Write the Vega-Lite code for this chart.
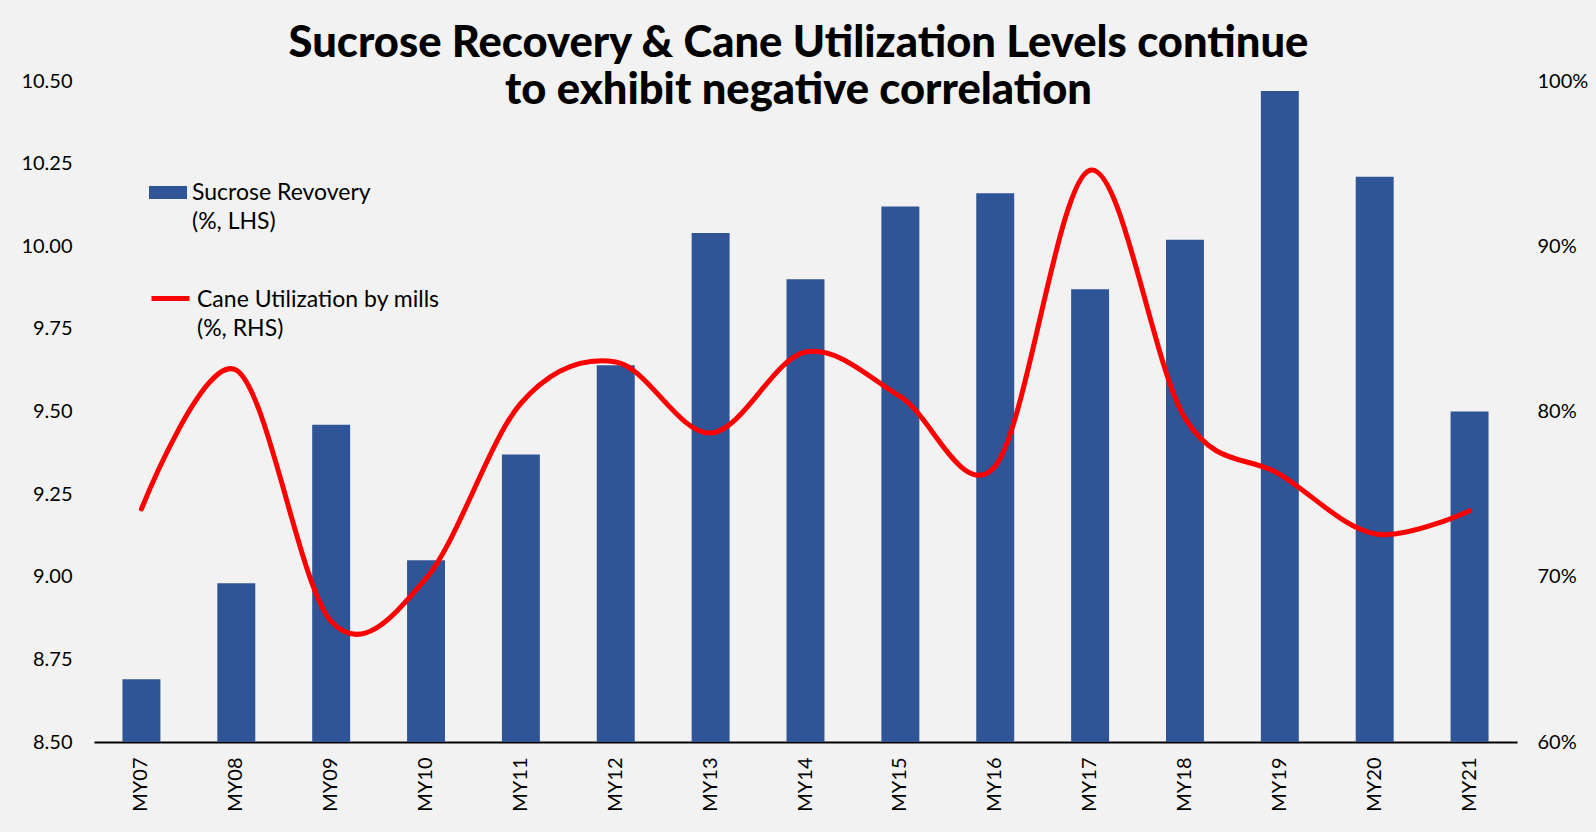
{
  "$schema": "https://vega.github.io/schema/vega-lite/v6.json",
  "autosize": "none",
  "width": 1423,
  "height": 661,
  "padding": {"left": 94, "top": 81, "right": 79, "bottom": 90},
  "background": "#f2f2f2",
  "title": {
    "text": ["Sucrose Recovery & Cane Utilization Levels continue", "to exhibit negative correlation"],
    "font": "Lato",
    "fontSize": 43.5,
    "fontWeight": 900,
    "color": "black",
    "anchor": "middle",
    "frame": "group",
    "baseline": "alphabetic",
    "lineHeight": 47,
    "offset": -76,
    "dx": -7
  },
  "config": {
    "view": {"stroke": null},
    "axis": {"labelFont": "Lato", "labelColor": "black", "grid": false, "ticks": false},
    "legend": {"labelFont": "Lato", "labelColor": "black"}
  },
  "data": {
    "values": [
      {"year": "MY07", "sucrose": 8.69, "cane": 0.741},
      {"year": "MY08", "sucrose": 8.98, "cane": 0.825},
      {"year": "MY09", "sucrose": 9.46, "cane": 0.673},
      {"year": "MY10", "sucrose": 9.05, "cane": 0.699},
      {"year": "MY11", "sucrose": 9.37, "cane": 0.805},
      {"year": "MY12", "sucrose": 9.64, "cane": 0.830},
      {"year": "MY13", "sucrose": 10.04, "cane": 0.787},
      {"year": "MY14", "sucrose": 9.90, "cane": 0.836},
      {"year": "MY15", "sucrose": 10.12, "cane": 0.809},
      {"year": "MY16", "sucrose": 10.16, "cane": 0.767},
      {"year": "MY17", "sucrose": 9.87, "cane": 0.946},
      {"year": "MY18", "sucrose": 10.02, "cane": 0.796},
      {"year": "MY19", "sucrose": 10.47, "cane": 0.762},
      {"year": "MY20", "sucrose": 10.21, "cane": 0.726},
      {"year": "MY21", "sucrose": 9.50, "cane": 0.740}
    ]
  },
  "encoding": {
    "x": {
      "field": "year",
      "type": "nominal",
      "sort": null,
      "scale": {"paddingInner": 0.6, "paddingOuter": 0.3},
      "axis": {
        "title": null,
        "labelAngle": -90,
        "labelFontSize": 20,
        "labelPadding": 15,
        "domainColor": "black",
        "domainWidth": 2
      }
    }
  },
  "layer": [
    {
      "mark": {"type": "bar", "clip": true},
      "encoding": {
        "y": {
          "field": "sucrose",
          "type": "quantitative",
          "scale": {"domain": [8.5, 10.5], "zero": false, "nice": false},
          "axis": {
            "title": null,
            "values": [8.5, 8.75, 9, 9.25, 9.5, 9.75, 10, 10.25, 10.5],
            "format": ".2f",
            "labelFontSize": 20,
            "labelPadding": 22,
            "domain": false
          }
        },
        "y2": {"datum": 8.5},
        "color": {
          "datum": "Sucrose Revovery|(%, LHS)",
          "scale": {"range": ["#2F5597"]},
          "legend": {
            "title": null,
            "orient": "none",
            "legendX": 55,
            "legendY": 100,
            "padding": 0,
            "symbolType": "M-1,-0.735H1V-0.055H-1Z",
            "symbolSize": 1444,
            "symbolStrokeWidth": 0,
            "labelOffset": 5,
            "labelFontSize": 23,
            "labelLimit": 400,
            "labelBaseline": "alphabetic",
            "labelExpr": "split(datum.label, '|')",
            "encode": {"labels": {"update": {"lineHeight": {"value": 29}}}}
          }
        }
      }
    },
    {
      "mark": {"type": "line", "interpolate": "cardinal", "strokeWidth": 5, "strokeCap": "round"},
      "encoding": {
        "y": {
          "field": "cane",
          "type": "quantitative",
          "scale": {"domain": [0.6, 1.0], "zero": false, "nice": false},
          "axis": {
            "title": null,
            "orient": "right",
            "values": [0.6, 0.7, 0.8, 0.9, 1.0],
            "format": ".0%",
            "labelFontSize": 20,
            "labelPadding": 20,
            "domain": false
          }
        },
        "stroke": {
          "datum": "Cane Utilization by mills|(%, RHS)",
          "scale": {"range": ["#FF0000"]},
          "legend": {
            "title": null,
            "orient": "none",
            "legendX": 55,
            "legendY": 204,
            "padding": 0,
            "symbolType": "M-1,-0.42H1",
            "symbolSize": 1444,
            "symbolStrokeWidth": 5,
            "symbolFillColor": "transparent",
            "labelOffset": 5,
            "labelFontSize": 23,
            "labelLimit": 400,
            "labelBaseline": "alphabetic",
            "labelExpr": "split(datum.label, '|')",
            "encode": {"labels": {"update": {"lineHeight": {"value": 29}}}}
          }
        }
      }
    }
  ],
  "resolve": {"scale": {"y": "independent"}}
}
